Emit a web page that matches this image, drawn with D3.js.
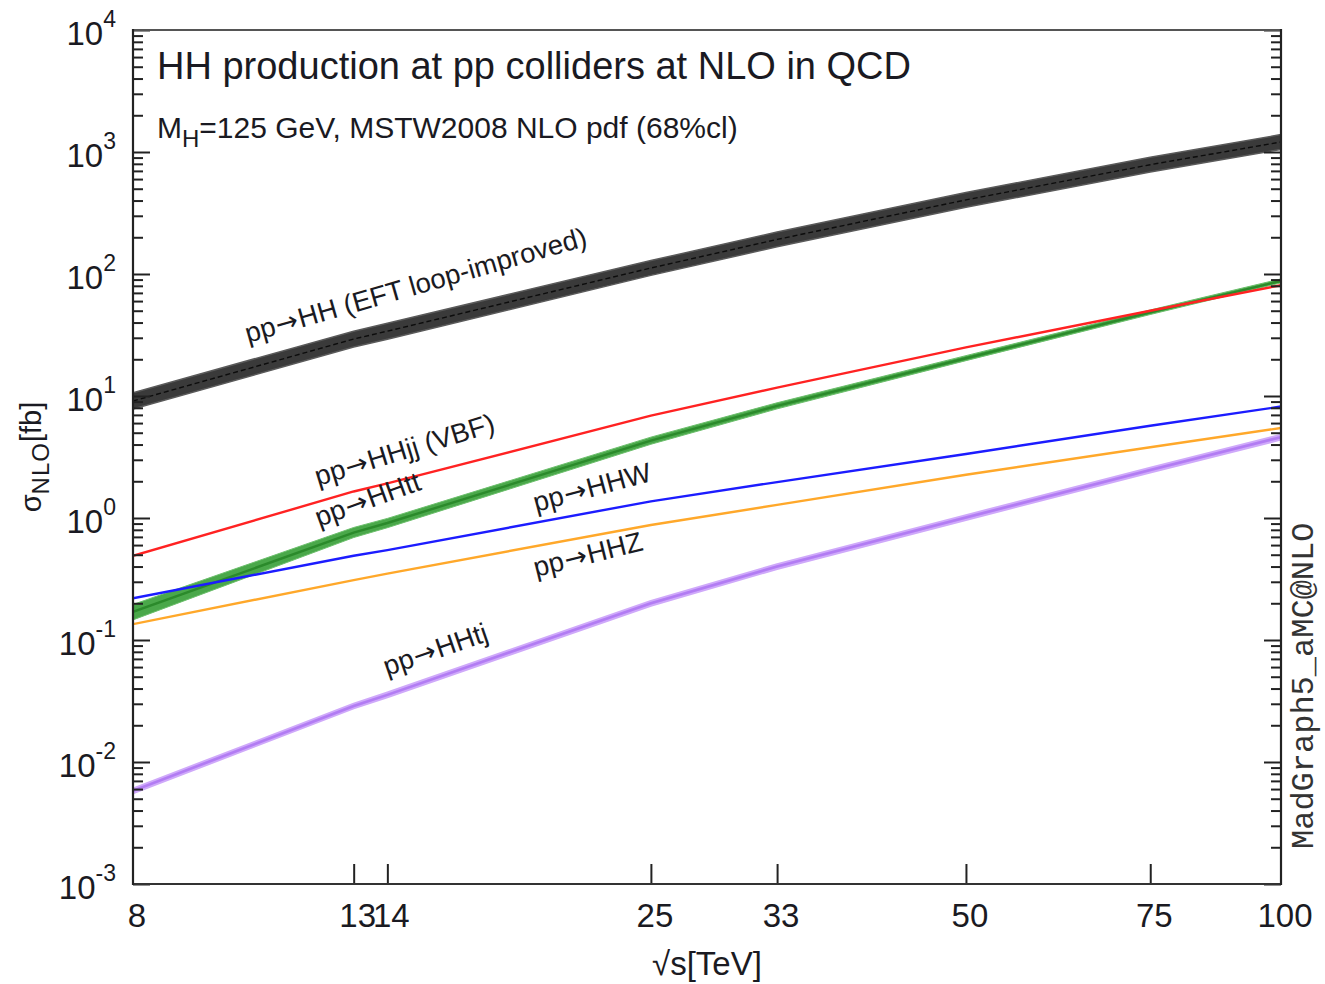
<!DOCTYPE html>
<html>
<head>
<meta charset="utf-8">
<script src="https://cdn.jsdelivr.net/npm/d3@7"></script>
<style>
  html, body { margin: 0; padding: 0; background: #fff; }
  svg { display: block; }
  .narrow { font-family: "Liberation Sans Narrow", "Arial Narrow", "Liberation Sans", sans-serif; }
  .sans { font-family: "Liberation Sans", Arial, sans-serif; }
</style>
</head>
<body>
<svg id="chart" width="1325" height="984"></svg>
<script>
// ---------------- data ----------------
const energies = [8, 13, 14, 25, 33, 50, 75, 100];           // sqrt(s) [TeV]
const xTickLabels = ["8", "13", "14", "25", "33", "50", "75", "100"];
const yTickExponents = [-3, -2, -1, 0, 1, 2, 3, 4];

const sigmaHH   = [9.1, 29.3, 34, 112, 192, 405, 787, 1208];
const sigmaHHjj = [0.49, 1.65, 1.92, 6.9, 11.7, 25, 50, 81];
const sigmaHHtt = [0.17, 0.76, 0.91, 4.3, 8.3, 20.4, 48.5, 87.7];
const sigmaHHW  = [0.22, 0.49, 0.545, 1.37, 1.97, 3.35, 5.7, 8.2];
const sigmaHHZ  = [0.135, 0.31, 0.35, 0.877, 1.28, 2.26, 3.8, 5.47];
const sigmaHHtj = [0.0058, 0.0288, 0.0355, 0.20, 0.40, 1.01, 2.47, 4.6];

// relative uncertainty bands
const uncHHup = [0.17, 0.16, 0.16, 0.15, 0.15, 0.15, 0.15, 0.15];
const uncHHdn = [0.14, 0.14, 0.14, 0.13, 0.13, 0.13, 0.13, 0.13];
const uncHHttUp = [0.15, 0.10, 0.09, 0.07, 0.06, 0.05, 0.045, 0.04];
const uncHHttDn = [0.14, 0.09, 0.085, 0.065, 0.055, 0.045, 0.04, 0.035];
const uncHHtjUp = [0.045, 0.045, 0.045, 0.045, 0.045, 0.045, 0.045, 0.045];
const uncHHtjDn = [0.045, 0.045, 0.045, 0.045, 0.045, 0.045, 0.045, 0.045];

// curve labels
const curveLabels = ["HH (EFT loop-improved)", "HHjj (VBF)", "HHtt", "HHW", "HHZ", "HHtj"];

// ---------------- layout ----------------
const svg = d3.select("#chart");
const X0 = 133, X1 = 1281, Y0 = 884, Y1 = 30;
const x = d3.scaleLog().domain([8, 100]).range([X0, X1]);
const y = d3.scaleLog().domain([1e-3, 1e4]).range([Y0, Y1]);

const pts = (vals, up, dn) => energies.map((e, i) => ({
  e, v: vals[i],
  hi: up ? vals[i] * (1 + up[i]) : vals[i],
  lo: dn ? vals[i] * (1 - dn[i]) : vals[i]
}));
const line = d3.line().x(d => x(d.e)).y(d => y(d.v));
const area = d3.area().x(d => x(d.e)).y0(d => y(d.lo)).y1(d => y(d.hi));

const plot = svg.append("g");
plot.append("clipPath").attr("id", "clip").append("rect")
  .attr("x", X0).attr("y", Y1).attr("width", X1 - X0).attr("height", Y0 - Y1);
const data = plot.append("g").attr("clip-path", "url(#clip)");

// black HH band
const hh = pts(sigmaHH, uncHHup, uncHHdn);
data.append("path").attr("d", area(hh)).attr("fill", "#3a3a3a")
  .attr("stroke", "#5a5a5a").attr("stroke-width", 1.5).attr("stroke-linejoin", "round");
data.append("path").attr("d", line(hh)).attr("fill", "none")
  .attr("stroke", "#0c0c0c").attr("stroke-width", 1.4).attr("stroke-dasharray", "5,3");

// green ttbar band
const tt = pts(sigmaHHtt, uncHHttUp, uncHHttDn);
data.append("path").attr("d", area(tt)).attr("fill", "#4aa84a")
  .attr("stroke", "#6cbf6c").attr("stroke-width", 1).attr("stroke-linejoin", "round");
data.append("path").attr("d", line(tt)).attr("fill", "none")
  .attr("stroke", "#2b8a2b").attr("stroke-width", 2.4);

// purple tj band
const tj = pts(sigmaHHtj, uncHHtjUp, uncHHtjDn);
data.append("path").attr("d", area(tj)).attr("fill", "#c69cf7")
  .attr("stroke", "#cfa9fa").attr("stroke-width", 2).attr("stroke-linejoin", "round");
data.append("path").attr("d", line(tj)).attr("fill", "none")
  .attr("stroke", "#b27cf3").attr("stroke-width", 2.6);

// plain lines
[[sigmaHHjj, "#ff2222"], [sigmaHHW, "#1c1cff"], [sigmaHHZ, "#ffa82a"]].forEach(([vals, col]) => {
  data.append("path").attr("d", line(pts(vals))).attr("fill", "none")
    .attr("stroke", col).attr("stroke-width", 2.4).attr("stroke-linejoin", "round");
});

// ---------------- axes / frame ----------------
const minorVals = [];
for (let k = -3; k < 4; k++) for (let m = 2; m <= 9; m++) minorVals.push(m * Math.pow(10, k));
const majorVals = yTickExponents.map(k => Math.pow(10, k));

const axStyle = g => {
  g.select(".domain").remove();
  g.selectAll(".tick line").attr("stroke", "#222").attr("stroke-width", 2);
  g.selectAll(".tick text").remove();
};
svg.append("g").attr("transform", `translate(${X0},0)`)
  .call(d3.axisLeft(y).tickValues(minorVals).tickSize(-10)).call(axStyle);
svg.append("g").attr("transform", `translate(${X0},0)`)
  .call(d3.axisLeft(y).tickValues(majorVals).tickSize(-17)).call(axStyle);
svg.append("g").attr("transform", `translate(${X1},0)`)
  .call(d3.axisRight(y).tickValues(minorVals).tickSize(-10)).call(axStyle);
svg.append("g").attr("transform", `translate(${X1},0)`)
  .call(d3.axisRight(y).tickValues(majorVals).tickSize(-17)).call(axStyle);
svg.append("g").attr("transform", `translate(0,${Y0})`)
  .call(d3.axisBottom(x).tickValues(energies.slice(1, -1)).tickSize(-20)).call(axStyle);

// frame
svg.append("line").attr("x1", X0).attr("x2", X1).attr("y1", Y1).attr("y2", Y1)
  .attr("stroke", "#555").attr("stroke-width", 2);
svg.append("line").attr("x1", X0).attr("x2", X1).attr("y1", Y0).attr("y2", Y0)
  .attr("stroke", "#333").attr("stroke-width", 2.2);
svg.append("line").attr("x1", X0).attr("x2", X0).attr("y1", Y1 - 1).attr("y2", Y0 + 1)
  .attr("stroke", "#222").attr("stroke-width", 2.2);
svg.append("line").attr("x1", X1).attr("x2", X1).attr("y1", Y1 - 1).attr("y2", Y0 + 1)
  .attr("stroke", "#222").attr("stroke-width", 2.2);

// y tick labels
const txtCol = "#1a1a22";
yTickExponents.forEach(k => {
  const t = svg.append("text").attr("class", "narrow")
    .attr("x", 116).attr("y", y(Math.pow(10, k)) + 15)
    .attr("text-anchor", "end").attr("fill", txtCol).attr("font-size", 33);
  t.append("tspan").text("10");
  t.append("tspan").attr("dy", -18).attr("font-size", 23).text(String(k));
});

// x tick labels
energies.forEach((e, i) => {
  svg.append("text").attr("class", "narrow")
    .attr("x", x(e) + 4).attr("y", 927).attr("text-anchor", "middle")
    .attr("fill", txtCol).attr("font-size", 33).text(xTickLabels[i]);
});

// axis titles
svg.append("text").attr("class", "narrow").attr("x", 707).attr("y", 975)
  .attr("text-anchor", "middle").attr("fill", txtCol).attr("font-size", 33).text("√s[TeV]");

const yt = svg.append("text").attr("class", "sans")
  .attr("transform", "translate(41,457) rotate(-90)")
  .attr("text-anchor", "middle").attr("fill", txtCol).attr("font-size", 29);
yt.append("tspan").text("σ");
yt.append("tspan").attr("dy", 8).attr("font-size", 24).attr("letter-spacing", 1).text("NLO");
yt.append("tspan").attr("dy", -8).text("[fb]");

svg.append("text").attr("transform", "translate(1313,849) rotate(-90)")
  .attr("font-family", "'Liberation Mono', 'DejaVu Sans Mono', monospace")
  .attr("font-size", 32).attr("fill", "#333").text("MadGraph5_aMC@NLO");

// titles
svg.append("text").attr("class", "sans").attr("x", 157).attr("y", 79)
  .attr("fill", txtCol).attr("font-size", 38).text("HH production at pp colliders at NLO in QCD");
const sub = svg.append("text").attr("class", "sans").attr("x", 157).attr("y", 138)
  .attr("fill", txtCol).attr("font-size", 30);
sub.append("tspan").text("M");
sub.append("tspan").attr("dy", 9).attr("font-size", 24).text("H");
sub.append("tspan").attr("dy", -9).text("=125 GeV, MSTW2008 NLO pdf (68%cl)");

// curve labels
const labelPos = [
  { x: 248, y: 343, a: -16 },
  { x: 318, y: 486, a: -17 },
  { x: 319, y: 527, a: -20 },
  { x: 536, y: 512, a: -15 },
  { x: 536, y: 577, a: -14 },
  { x: 387, y: 676, a: -19 }
];
curveLabels.forEach((lab, i) => {
  const l = labelPos[i];
  const t = svg.append("text").attr("class", "sans")
    .attr("transform", `translate(${l.x},${l.y}) rotate(${l.a})`)
    .attr("fill", txtCol).attr("font-size", 27.5);
  t.append("tspan").text("pp");
  t.append("tspan").attr("font-family", "'DejaVu Sans', sans-serif").attr("font-size", 27)
    .attr("dx", 1).text("→");
  t.append("tspan").attr("dx", 1).text(lab);
});
</script>
</body>
</html>
